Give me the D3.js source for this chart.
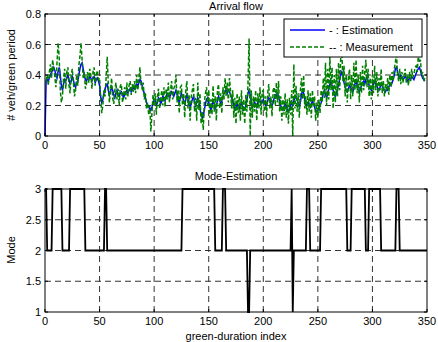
<!DOCTYPE html>
<html><head><meta charset="utf-8">
<script src="https://cdn.jsdelivr.net/npm/d3@7"></script>
<style>body{margin:0;background:#fff}svg{display:block;font-family:"Liberation Sans",Arial,sans-serif}</style>
</head><body>
<script>
const xTicks=[0,50,100,150,200,250,300,350];
const yTicksTop=[0,0.2,0.4,0.6,0.8];
const yTicksBottom=[1,1.5,2,2.5,3];
const estimation=[0,0.36,0.37,0.36,0.38,0.40,0.42,0.43,0.45,0.43,
0.40,0.38,0.42,0.45,0.40,0.33,0.30,0.34,0.37,0.36,
0.38,0.40,0.37,0.34,0.36,0.39,0.37,0.33,0.32,0.35,
0.36,0.40,0.44,0.47,0.48,0.44,0.40,0.37,0.36,0.38,
0.37,0.39,0.38,0.36,0.38,0.39,0.35,0.37,0.38,0.36,
0.33,0.26,0.22,0.24,0.28,0.31,0.33,0.34,0.30,0.27,
0.29,0.32,0.30,0.27,0.25,0.28,0.30,0.27,0.26,0.28,
0.29,0.27,0.25,0.27,0.29,0.30,0.28,0.30,0.31,0.29,
0.30,0.32,0.31,0.33,0.34,0.32,0.35,0.37,0.36,0.33,
0.30,0.28,0.25,0.22,0.20,0.19,0.18,0.17,0.19,0.22,
0.24,0.23,0.20,0.22,0.25,0.24,0.21,0.23,0.26,0.25,
0.23,0.26,0.28,0.27,0.25,0.27,0.29,0.28,0.26,0.28,
0.30,0.27,0.24,0.22,0.25,0.28,0.26,0.23,0.21,0.24,
0.27,0.25,0.22,0.19,0.21,0.24,0.26,0.23,0.20,0.22,
0.25,0.23,0.18,0.14,0.12,0.13,0.17,0.21,0.24,0.25,
0.22,0.19,0.17,0.20,0.23,0.21,0.18,0.20,0.23,0.26,
0.24,0.21,0.23,0.26,0.28,0.29,0.30,0.28,0.30,0.29,
0.27,0.25,0.23,0.20,0.18,0.19,0.21,0.20,0.18,0.20,
0.22,0.19,0.17,0.18,0.20,0.24,0.28,0.30,0.27,0.22,
0.19,0.20,0.22,0.21,0.19,0.22,0.24,0.23,0.21,0.22,
0.24,0.22,0.20,0.21,0.23,0.25,0.24,0.21,0.20,0.22,
0.25,0.27,0.26,0.28,0.26,0.23,0.20,0.18,0.17,0.19,
0.21,0.20,0.17,0.16,0.18,0.20,0.22,0.20,0.23,0.25,
0.26,0.24,0.21,0.19,0.22,0.27,0.30,0.28,0.24,0.21,
0.20,0.22,0.21,0.19,0.21,0.23,0.21,0.19,0.17,0.16,
0.17,0.18,0.20,0.22,0.25,0.28,0.30,0.27,0.25,0.28,
0.31,0.34,0.36,0.33,0.30,0.27,0.26,0.28,0.31,0.34,
0.37,0.40,0.42,0.39,0.35,0.32,0.30,0.29,0.31,0.33,
0.32,0.30,0.29,0.31,0.34,0.36,0.33,0.30,0.29,0.31,
0.33,0.35,0.36,0.34,0.37,0.39,0.36,0.33,0.31,0.30,
0.32,0.34,0.36,0.34,0.33,0.31,0.30,0.32,0.34,0.33,
0.31,0.30,0.29,0.31,0.30,0.32,0.34,0.33,0.35,0.37,
0.40,0.44,0.45,0.42,0.39,0.38,0.40,0.39,0.37,0.38,
0.39,0.38,0.36,0.37,0.38,0.37,0.39,0.38,0.37,0.39,
0.41,0.43,0.44,0.45,0.43,0.40,0.38,0.37,0.36];
const measurement=[null,0.36,0.40,0.33,0.42,0.47,0.38,0.50,0.44,0.39,
0.32,0.48,0.61,0.52,0.30,0.22,0.26,0.38,0.44,0.31,
0.42,0.45,0.33,0.28,0.40,0.44,0.35,0.26,0.30,0.40,
0.33,0.46,0.52,0.61,0.50,0.38,0.42,0.31,0.34,0.42,
0.35,0.44,0.40,0.31,0.42,0.45,0.33,0.40,0.43,0.37,
0.38,0.24,0.15,0.20,0.30,0.26,0.38,0.52,0.34,0.22,
0.30,0.38,0.25,0.21,0.30,0.35,0.24,0.31,0.20,0.33,
0.34,0.22,0.27,0.32,0.24,0.35,0.26,0.33,0.36,0.27,
0.34,0.29,0.36,0.28,0.40,0.30,0.38,0.45,0.33,0.31,
0.35,0.24,0.28,0.18,0.22,0.14,0.20,0.03,0.15,0.27,
0.20,0.28,0.14,0.26,0.31,0.18,0.24,0.30,0.20,0.32,
0.19,0.31,0.24,0.35,0.22,0.30,0.36,0.24,0.31,0.33,
0.40,0.22,0.30,0.15,0.32,0.33,0.20,0.28,0.12,0.30,
0.36,0.18,0.27,0.10,0.26,0.30,0.34,0.16,0.25,0.10,
0.35,0.17,0.28,0.08,0.16,0.04,0.22,0.28,0.32,0.20,
0.30,0.12,0.24,0.14,0.33,0.16,0.26,0.10,0.30,0.34,
0.18,0.28,0.15,0.32,0.24,0.38,0.26,0.35,0.22,0.38,
0.30,0.18,0.30,0.12,0.25,0.08,0.28,0.15,0.26,0.10,
0.30,0.14,0.24,0.08,0.27,0.16,0.35,0.64,0.00,0.30,
0.12,0.26,0.16,0.30,0.10,0.28,0.18,0.32,0.14,0.29,
0.30,0.16,0.26,0.12,0.28,0.34,0.18,0.26,0.13,0.30,
0.32,0.20,0.35,0.22,0.36,0.16,0.26,0.10,0.24,0.14,
0.28,0.12,0.24,0.08,0.25,0.14,0.30,0.00,0.47,0.18,
0.33,0.16,0.28,0.12,0.30,0.38,0.24,0.40,0.18,0.26,
0.14,0.30,0.16,0.28,0.12,0.30,0.20,0.26,0.10,0.22,
0.12,0.24,0.15,0.30,0.22,0.38,0.25,0.48,0.20,0.44,
0.24,0.52,0.30,0.45,0.18,0.40,0.22,0.44,0.26,0.48,
0.30,0.52,0.55,0.36,0.46,0.26,0.40,0.22,0.38,0.44,
0.24,0.40,0.26,0.48,0.30,0.50,0.28,0.40,0.22,0.42,
0.28,0.46,0.30,0.42,0.50,0.32,0.44,0.26,0.38,0.24,
0.40,0.28,0.46,0.30,0.42,0.26,0.38,0.30,0.44,0.28,
0.36,0.26,0.34,0.30,0.38,0.27,0.40,0.32,0.42,0.36,
0.44,0.48,0.55,0.40,0.36,0.44,0.34,0.42,0.35,0.40,
0.44,0.35,0.40,0.33,0.42,0.36,0.44,0.38,0.40,0.45,
0.46,0.42,0.52,0.48,0.50,0.40,0.42,0.36,0.38];
// mode estimate as runs: [mode value, number of consecutive indices], starting at index 0
const modeRuns=[[3,2],[2,5],[3,9],[2,7],[3,14],[2,18],[3,2],[2,69],[3,30],[2,7],[3,3],[2,20],[1,2],[2,38],[3,1],[1,1],[2,12],[3,3],[2,10],[3,24],[2,4],[3,13],[2,3],[3,11],[2,14],[3,3],[2,26]];
const modeValues=[];
modeRuns.forEach(([v,n])=>{for(let k=0;k<n;k++)modeValues.push(v);});

const W=438,H=342;
const svg=d3.select("body").append("svg").attr("width",W).attr("height",H);
const x=d3.scaleLinear().domain([0,350]).range([45,427]);
const yT=d3.scaleLinear().domain([0,0.8]).range([136,14]);
const yB=d3.scaleLinear().domain([1,3]).range([312,189]);
const fs=11;

function panel(y,yTicks){
  const g=svg.append("g");
  const [y0,y1]=y.range();
  xTicks.slice(1,-1).forEach(t=>g.append("line").attr("x1",x(t)).attr("x2",x(t)).attr("y1",y0).attr("y2",y1)
    .attr("stroke","#333").attr("stroke-width",1).attr("stroke-dasharray","6,4"));
  yTicks.slice(1,-1).forEach(t=>g.append("line").attr("x1",x(0)).attr("x2",x(350)).attr("y1",y(t)).attr("y2",y(t))
    .attr("stroke","#333").attr("stroke-width",1).attr("stroke-dasharray","6,4"));
  return g;
}
function frame(y,yTicks,fmt){
  const g=svg.append("g");
  const [y0,y1]=y.range();
  g.append("rect").attr("x",x(0)).attr("y",y1).attr("width",x(350)-x(0)).attr("height",y0-y1)
    .attr("fill","none").attr("stroke","#000").attr("stroke-width",1);
  xTicks.forEach(t=>{
    g.append("line").attr("x1",x(t)).attr("x2",x(t)).attr("y1",y0).attr("y2",y0-3).attr("stroke","#000");
    g.append("line").attr("x1",x(t)).attr("x2",x(t)).attr("y1",y1).attr("y2",y1+3).attr("stroke","#000");
    g.append("text").attr("x",x(t)).attr("y",y0+13).attr("text-anchor","middle").attr("font-size",fs).text(t);
  });
  yTicks.forEach(t=>{
    g.append("line").attr("x1",x(0)).attr("x2",x(0)+3).attr("y1",y(t)).attr("y2",y(t)).attr("stroke","#000");
    g.append("line").attr("x1",x(350)).attr("x2",x(350)-3).attr("y1",y(t)).attr("y2",y(t)).attr("stroke","#000");
    g.append("text").attr("x",x(0)-4).attr("y",y(t)+4).attr("text-anchor","end").attr("font-size",fs).text(fmt(t));
  });
}

// top panel
panel(yT,yTicksTop);
const lineT=d3.line().defined(d=>d!=null).x((d,i)=>x(i)).y(d=>yT(d));
svg.append("path").attr("d",lineT(estimation)).attr("fill","none").attr("stroke","#0000ff").attr("stroke-width",1.5);
svg.append("path").attr("d",lineT(measurement)).attr("fill","none").attr("stroke","#008000").attr("stroke-width",1.5).attr("stroke-dasharray","4,2");
frame(yT,yTicksTop,d=>d===0?"0":d3.format(".1f")(d));

// legend
const lg=svg.append("g");
lg.append("rect").attr("x",284).attr("y",19).attr("width",138).attr("height",38).attr("fill","#fff").attr("stroke","#000").attr("stroke-width",1);
lg.append("line").attr("x1",290).attr("x2",325).attr("y1",30).attr("y2",30).attr("stroke","#0000ff").attr("stroke-width",1.5);
lg.append("line").attr("x1",290).attr("x2",325).attr("y1",47).attr("y2",47).attr("stroke","#008000").attr("stroke-width",1.5).attr("stroke-dasharray","4,2");
lg.append("text").attr("x",329).attr("y",34).attr("font-size",fs).text("- : Estimation");
lg.append("text").attr("x",329).attr("y",51).attr("font-size",fs).text("-- : Measurement");

svg.append("text").attr("x",236).attr("y",10).attr("text-anchor","middle").attr("font-size",fs).text("Arrival flow");
svg.append("text").attr("transform","translate(15,75) rotate(-90)").attr("text-anchor","middle").attr("font-size",fs).text("# veh/green period");

// bottom panel
panel(yB,yTicksBottom);
const lineB=d3.line().x((d,i)=>x(i)).y(d=>yB(d));
svg.append("path").attr("d",lineB(modeValues)).attr("fill","none").attr("stroke","#000").attr("stroke-width",1.8);
frame(yB,yTicksBottom,d=>String(d));
svg.append("text").attr("x",236).attr("y",180).attr("text-anchor","middle").attr("font-size",fs).text("Mode-Estimation");
svg.append("text").attr("x",236).attr("y",340).attr("text-anchor","middle").attr("font-size",fs).text("green-duration index");
svg.append("text").attr("transform","translate(15,250) rotate(-90)").attr("text-anchor","middle").attr("font-size",fs).text("Mode");
</script>
</body></html>
